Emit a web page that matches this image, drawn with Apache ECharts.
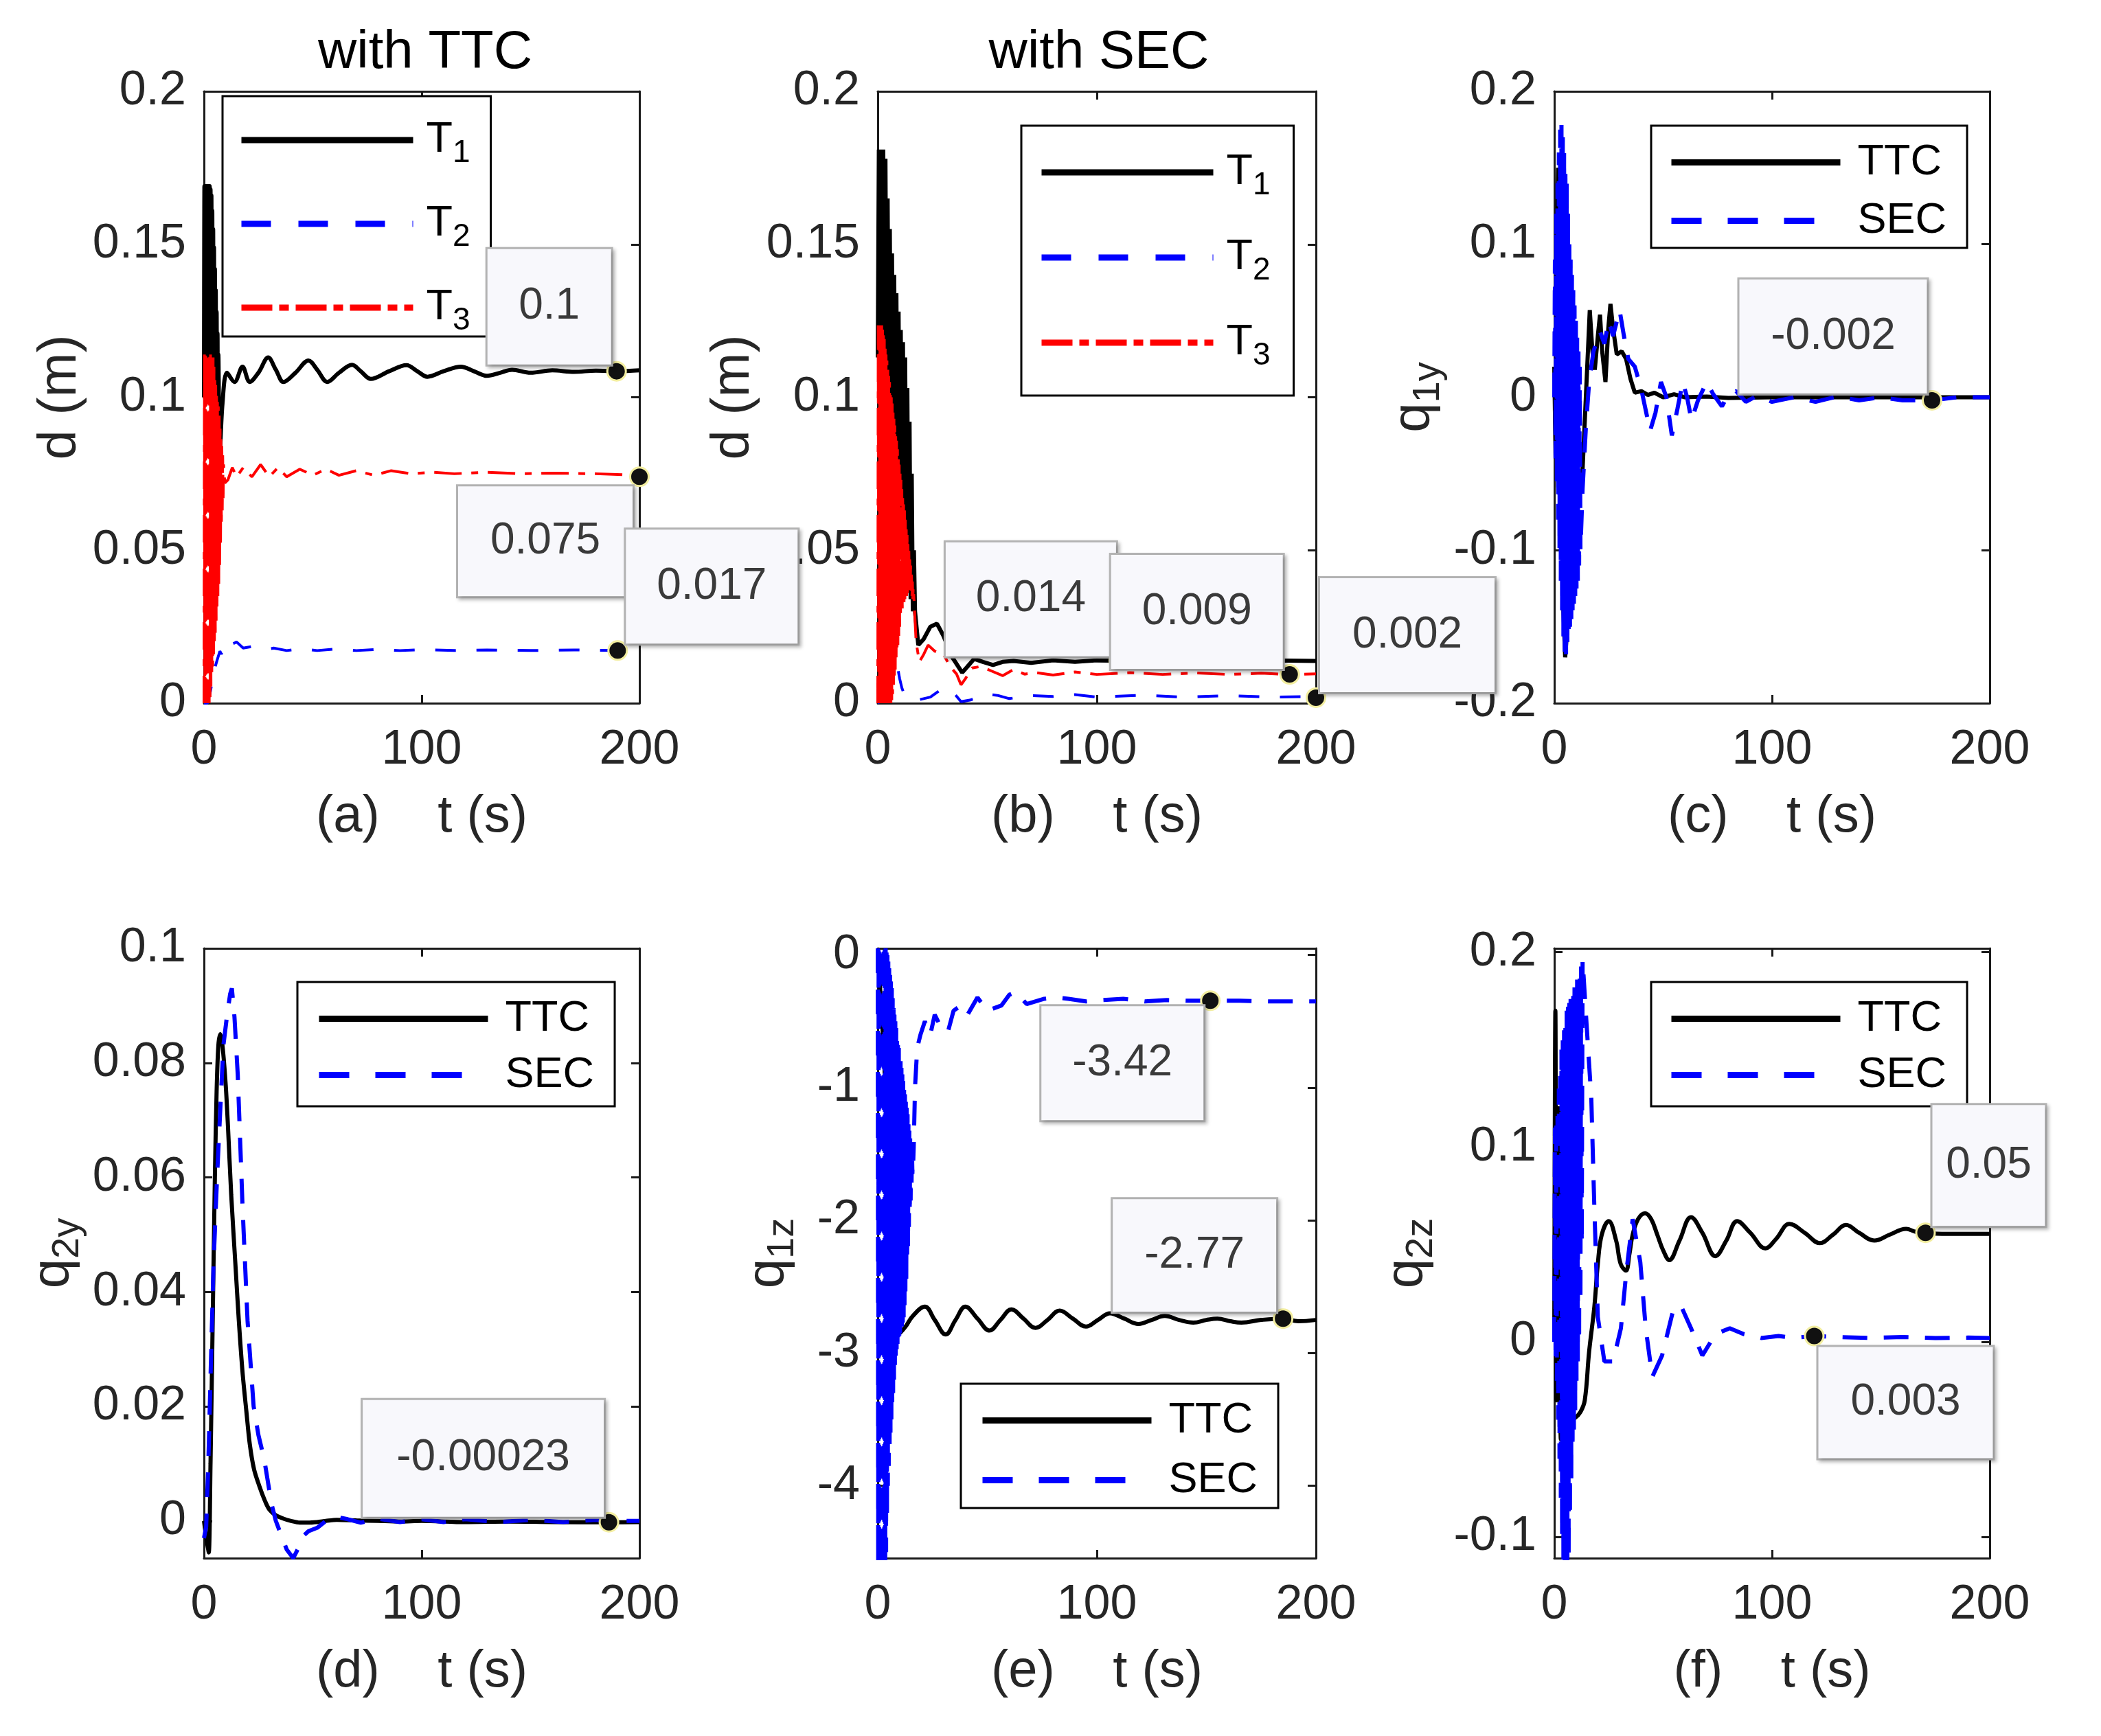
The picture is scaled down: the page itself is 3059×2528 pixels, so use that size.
<!DOCTYPE html>
<html><head><meta charset="utf-8">
<script src="https://cdn.jsdelivr.net/npm/echarts@6/dist/echarts.min.js"></script>
<style>html,body{margin:0;padding:0;background:#fff}#c{width:3059px;height:2528px}</style>
</head><body><div id="c"></div>
<script>
// ---------------- DATA ----------------
// (a) with TTC
const tA1 = [0,0.2,0.4,0.6,0.8,1,1.2,1.4,1.6,1.8,2,2.2,2.4,2.6,2.8,3,3.2,3.4,3.6,3.8,4,4.2,4.4,4.6,4.8,5,5.2,5.4,5.6,5.8,6,6.2,6.4,6.6,7.3,8.5,10.6,14,17.7,21,25,29.5,33,36.5,42,48,52,56.6,62,68,72,76.6,85,93,98,102.6,110,118,124,130,136,141.5,150,160,170,180,190,200];
const yA1 = [0.1,0.169,0.1,0.169,0.1,0.169,0.1,0.169,0.1,0.169,0.1,0.169,0.1,0.169,0.1,0.168,0.1,0.166,0.1,0.161,0.1,0.155,0.095,0.149,0.093,0.142,0.09,0.135,0.088,0.128,0.086,0.121,0.084,0.114,0.082,0.098,0.108,0.105,0.110,0.105,0.108,0.113,0.109,0.105,0.108,0.112,0.109,0.105,0.108,0.1106,0.1085,0.106,0.1085,0.1105,0.1085,0.1067,0.1085,0.110,0.1085,0.107,0.108,0.109,0.108,0.1088,0.1083,0.1087,0.1085,0.1088];
const tA2 = [0,1.6,3,4,5.2,6,7.3,8,9,10,12,15,18,22,28,32,38,45,52,60,70,80,90,100,115,130,150,170,190,200];
const yA2 = [0,0,0.004,0.008,0.012,0.014,0.017,0.016,0.019,0.020,0.019,0.020,0.018,0.0185,0.0175,0.018,0.0172,0.0178,0.0172,0.0177,0.0172,0.0176,0.0172,0.0175,0.0172,0.0174,0.0172,0.0174,0.0172,0.0173];
const tA3 = [0,0.2,0.4,0.6,0.8,1,1.2,1.4,1.6,1.8,2,2.2,2.4,2.6,2.8,3,3.2,3.4,3.6,3.8,4,4.2,4.4,4.6,4.8,5,5.2,5.4,5.6,5.8,6,6.2,6.4,6.6,6.8,7,7.2,7.4,7.6,7.8,8,8.2,8.4,8.6,8.8,9,9.6,11,13,15,18,22,26,30,34,38,44,50,56,62,70,78,86,95,105,115,130,145,160,180,200];
const yA3 = [0,0.114,0,0.114,0,0.114,0,0.114,0,0.114,0,0.114,0,0.114,0.002,0.114,0.005,0.114,0.009,0.114,0.012,0.113,0.016,0.11,0.019,0.107,0.023,0.104,0.027,0.101,0.031,0.099,0.035,0.097,0.039,0.094,0.045,0.091,0.051,0.087,0.058,0.084,0.063,0.081,0.067,0.078,0.072,0.073,0.077,0.074,0.077,0.074,0.078,0.074,0.077,0.074,0.0765,0.0745,0.0765,0.0745,0.076,0.0745,0.076,0.075,0.0755,0.075,0.0755,0.075,0.0752,0.075,0.0745];
// (b) with SEC
const tB1 = [0,0.5,1,1.5,2,2.5,3,3.5,4,4.5,5,5.5,6,6.5,7,7.5,8,8.5,9,9.5,10,10.5,11,11.5,12,12.5,13,13.5,14,14.5,15,15.5,16,16.5,17,18.5,21,24,27,30,34,38.5,41,44,48,52.6,57,62,70,80,90,100,120,140,160,180,200];
const yB1 = [0.113,0.181,0.113,0.181,0.113,0.181,0.109,0.178,0.103,0.165,0.097,0.155,0.091,0.147,0.085,0.14,0.079,0.134,0.073,0.128,0.066,0.122,0.06,0.118,0.053,0.113,0.046,0.103,0.04,0.092,0.034,0.075,0.03,0.05,0.03,0.019,0.021,0.025,0.026,0.022,0.015,0.010,0.012,0.0145,0.0135,0.0125,0.0135,0.0138,0.0132,0.014,0.0135,0.014,0.0138,0.014,0.0137,0.014,0.0138];
const tB2 = [0,3,5,6,7,8,9,10,11,12,14,18,24,30,34,38,42,50,55,60,70,80,90,100,120,140,160,180,200];
const yB2 = [0,0.002,0.008,0.014,0.018,0.016,0.012,0.008,0.005,0.003,0.002,0.001,0.002,0.005,0.004,0.0005,0.001,0.003,0.0025,0.0015,0.0025,0.0022,0.0028,0.002,0.0026,0.002,0.0025,0.002,0.0022];
const tB3 = [0,0.2,0.4,0.6,0.8,1,1.2,1.4,1.6,1.8,2,2.2,2.4,2.6,2.8,3,3.2,3.4,3.6,3.8,4,4.2,4.4,4.6,4.8,5,5.2,5.4,5.6,5.8,6,6.2,6.4,6.6,6.8,7,7.2,7.4,7.6,7.8,8,8.2,8.4,8.6,8.8,9,9.2,9.4,9.6,9.8,10,10.2,10.4,10.6,10.8,11,11.2,11.4,11.6,11.8,12,12.2,12.4,12.6,12.8,13,13.2,13.4,13.6,13.8,14,14.2,14.4,14.6,14.8,15,15.2,15.4,15.6,15.8,16,16.2,16.4,17.5,19,21,23,26,30,33,36,38,40,43,47,52,57,62,67,72,80,90,100,115,130,145,160,175,188,200];
const yB3 = [0,0.1235,0,0.1235,0,0.1235,0,0.1235,0,0.1235,0,0.1235,0,0.121,0,0.119,0,0.116,0,0.114,0,0.112,0,0.109,0,0.107,0,0.105,0,0.102,0,0.100,0.001,0.098,0.003,0.095,0.006,0.093,0.008,0.091,0.011,0.088,0.014,0.086,0.017,0.083,0.019,0.080,0.022,0.078,0.025,0.075,0.028,0.073,0.030,0.070,0.031,0.068,0.032,0.065,0.033,0.063,0.034,0.060,0.035,0.058,0.035,0.055,0.036,0.052,0.037,0.050,0.037,0.047,0.036,0.045,0.036,0.042,0.035,0.040,0.034,0.038,0.036,0.02,0.0135,0.016,0.019,0.017,0.016,0.012,0.0095,0.006,0.008,0.0115,0.012,0.0105,0.009,0.011,0.0095,0.010,0.0092,0.0102,0.0094,0.0100,0.0094,0.0099,0.0094,0.0098,0.0094,0.0096];
// (c) q1y
const tC1 = [0,0.6,1.2,1.8,2.4,3.2,4.2,5,6,7.5,9,11,13,14.5,16.3,17.5,18.6,20,21,22,23.5,24.8,25.8,27,28.7,31,33,35,37,40,43,46,50,55,60,70,80,100,150,200];
const yC1 = [0.02,-0.04,0.10,0.15,0.05,-0.06,-0.14,-0.17,-0.15,-0.10,-0.08,-0.06,-0.047,0.0,0.057,0.03,0.018,0.04,0.054,0.03,0.01,0.045,0.061,0.045,0.028,0.03,0.025,0.012,0.003,0.004,0.0015,0.003,0.0,0.002,0,0.0005,-0.0005,0,0,0];
const tC2 = [0,0.3,0.6,0.9,1.2,1.5,1.8,2.1,2.4,2.7,3.0,3.3,3.6,3.9,4.2,4.5,4.8,5.1,5.4,5.7,6.0,6.3,6.6,6.9,7.2,7.5,7.8,8.1,8.4,8.7,9.0,9.3,9.6,9.9,10.2,10.5,10.8,11.1,11.4,11.7,12.0,13,14.5,16,18,21,23,25,27,30,32,34,37,40,44,46.5,49,51.5,54,56.5,59,61,63,66,70,73,77,80,83.5,88,93,100,110,120,130,140,150,160,173.5,185,200];
const yC2 = [0,0.09,-0.04,0.12,-0.06,0.14,-0.08,0.16,-0.10,0.175,-0.12,0.178,-0.14,0.17,-0.16,0.16,-0.17,0.15,-0.168,0.14,-0.16,0.12,-0.155,0.10,-0.15,0.09,-0.145,0.08,-0.14,0.07,-0.135,0.06,-0.13,0.05,-0.125,0.04,-0.12,0.03,-0.11,0.02,-0.10,-0.06,-0.02,0.01,0.03,0.043,0.035,0.05,0.04,0.057,0.04,0.025,0.02,0.005,-0.022,-0.01,0.01,0,-0.025,-0.008,0.01,0,-0.015,-0.002,0.01,0.002,-0.006,0.002,0.004,-0.003,0.001,-0.003,0,-0.003,0.0005,-0.002,0,-0.002,-0.002,0,0];
// (d) q2y
const tD1 = [0,0.7,1.5,2.2,3,4,5,5.8,6.6,7.5,8.5,10,11,12.5,14.4,16,17.7,19.5,21,23,25.5,28,30,33,36.5,40,44,47.6,52,56,61,70,80,90,100,120,140,160,186,200];
const yD1 = [0,-0.002,-0.004,-0.0055,0.01,0.035,0.06,0.075,0.083,0.085,0.083,0.076,0.069,0.057,0.045,0.035,0.026,0.019,0.0135,0.009,0.006,0.0035,0.002,0.001,0.0004,0,-0.0003,-0.0003,-0.0002,0,0.0002,0.0001,0,-0.0001,0,-0.0002,-0.0001,-0.0002,-0.00023,-0.0002];
const tD2 = [0,1,2,3,4.4,6,7.5,8.9,10.5,12,12.8,14,15.5,17.7,20,22.8,25,27.7,31,33,36,38,41,43,45.4,48,52,56,61,66,72,80,90,100,110,120,135,150,165,180,190,200];
const yD2 = [-0.003,-0.001,0.01,0.025,0.045,0.06,0.072,0.083,0.088,0.092,0.093,0.088,0.078,0.055,0.035,0.02,0.015,0.0107,0.003,0,-0.003,-0.005,-0.0065,-0.005,-0.0027,-0.0018,-0.0012,0,0.0007,0.0003,-0.0003,0.0004,-0.0002,0.0003,-0.0002,0.0003,-0.0002,0.0002,-0.0002,0.0002,0,0];
// (e) q1z
const tE1 = [0,2,4,6,8,10,12.7,16,21.5,26,31,35.5,40,45.5,51,56,61,66.5,72,77.5,83,89,95,100.5,106,112.5,119,125,131,137.5,144,150,155,161,166,175,185,192,200];
const yE1 = [0,-0.5,-1.2,-1.9,-2.5,-2.85,-2.8,-2.72,-2.65,-2.75,-2.86,-2.75,-2.65,-2.74,-2.83,-2.75,-2.67,-2.74,-2.81,-2.75,-2.68,-2.74,-2.8,-2.75,-2.7,-2.74,-2.78,-2.75,-2.72,-2.75,-2.77,-2.75,-2.74,-2.76,-2.77,-2.75,-2.74,-2.76,-2.75];
const tE2 = [0,0.2,0.4,0.6,0.8,1,1.2,1.4,1.6,1.8,2,2.2,2.4,2.6,2.8,3,3.2,3.4,3.6,3.8,4,4.2,4.4,4.6,4.8,5,5.2,5.4,5.6,5.8,6,6.2,6.4,6.6,6.8,7,7.2,7.4,7.6,7.8,8,8.2,8.4,8.6,8.8,9,9.2,9.4,9.6,9.8,10,10.2,10.4,10.6,10.8,11,11.2,11.4,11.6,11.8,12,12.2,12.4,12.6,12.8,13,13.2,13.4,13.6,13.8,14,14.2,14.4,14.6,14.8,15,15.2,15.4,15.6,15.8,16,16.2,16.4,17,18,19.5,21.5,24,26,29,32,34.6,38,41,45.5,50,56.5,60,63,68,76,81,87,95,102.5,112,122,132,142,151.8,165,180,200];
const yE2 = [0.05,-4.6,0.05,-4.6,0.05,-4.6,0.05,-4.6,0.05,-4.6,0.05,-4.6,0.05,-4.6,0.05,-4.6,0.05,-4.6,0.05,-4.5,0.05,-4.25,0.0,-4.0,-0.05,-3.85,-0.1,-3.7,-0.15,-3.6,-0.2,-3.5,-0.25,-3.4,-0.32,-3.3,-0.4,-3.2,-0.45,-3.1,-0.5,-3.02,-0.55,-2.97,-0.6,-2.93,-0.65,-2.9,-0.7,-2.87,-0.75,-2.85,-0.8,-2.82,-0.85,-2.8,-0.9,-2.77,-0.95,-2.73,-1.0,-2.65,-1.05,-2.55,-1.1,-2.45,-1.15,-2.3,-1.2,-2.2,-1.25,-2.05,-1.3,-1.95,-1.35,-1.85,-1.4,-1.75,-1.45,-1.65,-1.5,-1.55,-1.45,-1.0,-0.7,-0.6,-0.5,-0.6,-0.45,-0.55,-0.58,-0.42,-0.38,-0.45,-0.32,-0.42,-0.38,-0.3,-0.28,-0.37,-0.33,-0.32,-0.33,-0.35,-0.34,-0.33,-0.35,-0.34,-0.345,-0.345,-0.345,-0.35,-0.35];
// (f) q2z
const tF1 = [0,0.5,1,2,3,4,5.5,7,9.5,12,14,16,18.4,20,21.8,25,28.4,30.5,32.9,34.5,36,38.5,41.7,44.5,47.3,50,52.8,57.5,62.8,68,74,79,84,90,97,102,108,115,122,128,134,140,147,154,161.6,166,170.5,178,190,200];
const yF1 = [0,0.17,-0.03,0.12,-0.05,0.06,-0.035,-0.04,-0.039,-0.036,-0.03,-0.005,0.018,0.04,0.055,0.062,0.052,0.04,0.0366,0.045,0.055,0.063,0.066,0.063,0.055,0.047,0.042,0.052,0.064,0.056,0.044,0.052,0.062,0.056,0.048,0.053,0.0606,0.056,0.0507,0.055,0.06,0.056,0.052,0.055,0.058,0.0565,0.056,0.0555,0.0555,0.0555];
const tF2 = [0,0.3,0.6,0.9,1.2,1.5,1.8,2.1,2.4,2.7,3.0,3.3,3.6,3.9,4.2,4.5,4.8,5.1,5.4,5.7,6.0,6.3,6.6,6.9,7.2,7.5,7.8,8.1,8.4,8.7,9.0,9.3,9.6,9.9,10.2,10.5,10.8,11.1,11.4,11.7,12.0,12.3,12.6,13.0,15,17,18.4,20,23,27,30.6,33,36,39.5,42,45,49.5,55,58.4,62.8,68,74,80.6,87,95,103,110,119.4,130,145,160,175,190,200];
const yF2 = [0,0.11,-0.01,0.115,-0.02,0.12,-0.04,0.13,-0.06,0.14,-0.08,0.15,-0.1,0.155,-0.113,0.16,-0.115,0.165,-0.115,0.17,-0.115,0.172,-0.11,0.174,-0.09,0.176,-0.07,0.178,-0.055,0.18,-0.045,0.182,-0.035,0.184,-0.02,0.186,-0.01,0.188,0.0,0.19,0.02,0.193,0.05,0.196,0.16,0.125,0.069,0.0127,-0.01,-0.01,0.007,0.035,0.063,0.041,0.007,-0.018,-0.007,0.018,0.018,0.007,-0.007,0.004,0.007,0.004,0.002,0.003,0.002,0.003,0.0025,0.002,0.0025,0.002,0.0022,0.002];

// data tips
const tipPanel = [0,0,0,1,1,1,2,3,4,4,5,5];
const tipT = [189.5,200,190,110,188,200,173.5,186,151.8,185,170.5,119.4];
const tipV = [0.1085,0.074,0.0172,0.014,0.0094,0.0018,-0.002,-0.00023,-0.345,-2.74,0.056,0.003];
const tipText = ['0.1','0.075','0.017','0.014','0.009','0.002','-0.002','-0.00023','-3.42','-2.77','0.05','0.003'];

// tick labels
const xTicks = [0,100,200];
const yTicksAB = [0,0.05,0.1,0.15,0.2];
const yTicksC = [-0.2,-0.1,0,0.1,0.2];
const yTicksD = [0,0.02,0.04,0.06,0.08,0.1];
const yTicksE = [-4,-3,-2,-1,0];
const yTicksF = [-0.1,0,0.1,0.2];

const xNames = ['(a)    t (s)','(b)    t (s)','(c)    t (s)','(d)    t (s)','(e)    t (s)','(f)    t (s)'];
const yNames = ['d (m)','d (m)','{q|q}{s|1y}','{q|q}{s|2y}','{q|q}{s|1z}','{q|q}{s|2z}'];
const titles = ['with TTC','with SEC'];

// ---------------- STYLE / LAYOUT ----------------
const FONT = 'Liberation Sans, Arial, Helvetica, sans-serif';
const AX = '#1a1a1a', TX = '#262626';
const grids = [
  {left:297, top:133, width:634, height:891},
  {left:1278, top:133, width:638, height:891},
  {left:2263, top:133, width:634, height:891},
  {left:297, top:1381, width:634, height:888},
  {left:1278, top:1381, width:638, height:888},
  {left:2263, top:1381, width:634, height:888}
];
const yRange = [
  {min:0, max:0.2, ticks:yTicksAB},
  {min:0, max:0.2, ticks:yTicksAB},
  {min:-0.2, max:0.2, ticks:yTicksC},
  {min:-0.0065, max:0.1, ticks:yTicksD},
  {min:-4.545, max:0.05, ticks:yTicksE},
  {min:-0.111, max:0.202, ticks:yTicksF}
];
const yNameGap = [170, 171, 163, 178, 118, 173];
const tipBox = [
  {off:[-98,-94], w:180, h:168},
  {off:[-137,94], w:254, h:160},
  {off:[137,-93], w:250, h:166},
  {off:[-128,-89], w:248, h:166},
  {off:[-135,-91], w:250, h:166},
  {off:[133,-91], w:254, h:166},
  {off:[-144,-93], w:273, h:166},
  {off:[-183,-93], w:351, h:170},
  {off:[-128,91], w:236, h:166},
  {off:[-129,-92], w:238, h:164},
  {off:[92,-98], w:164, h:176},
  {off:[133,97], w:254, h:162}
];

const zip = (t, v) => t.map((x, i) => [x, v[i]]);

const xAxis = [], yAxis = [];
for (let i = 0; i < 6; i++) {
  const line = {show:true, onZero:false, lineStyle:{color:AX, width:3}};
  const tickX = {show:true, inside:true, length:12, customValues:xTicks, lineStyle:{color:AX, width:3}};
  xAxis.push({gridIndex:i, type:'value', min:0, max:200, interval:100, position:'bottom',
    axisLine:line, axisTick:tickX, splitLine:{show:false},
    axisLabel:{show:true, customValues:xTicks, fontSize:70, color:TX, margin:34, fontFamily:FONT},
    name:xNames[i], nameLocation:'middle', nameGap:128, nameMoveOverlap:false,
    nameTextStyle:{fontSize:76, color:TX, fontFamily:FONT}});
  xAxis.push({gridIndex:i, type:'value', min:0, max:200, interval:100, position:'top',
    axisLine:line, axisTick:tickX, splitLine:{show:false}, axisLabel:{show:false}});
  const r = yRange[i];
  const tickY = {show:true, inside:true, length:12, customValues:r.ticks, lineStyle:{color:AX, width:3}};
  yAxis.push({gridIndex:i, type:'value', min:r.min, max:r.max, position:'left',
    axisLine:line, axisTick:tickY, splitLine:{show:false},
    axisLabel:{show:true, customValues:r.ticks, fontSize:70, color:TX, margin:26, fontFamily:FONT},
    name:yNames[i], nameLocation:'middle', nameGap:yNameGap[i], nameMoveOverlap:false,
    nameTextStyle:{fontSize:78, color:TX, fontFamily:FONT,
      rich:{q:{fontSize:78, lineHeight:80, verticalAlign:'top', color:TX, fontFamily:FONT},
            s:{fontSize:56, lineHeight:56, padding:[40,0,0,0], color:TX, fontFamily:FONT}}}});
  yAxis.push({gridIndex:i, type:'value', min:r.min, max:r.max, position:'right',
    axisLine:line, axisTick:tickY, splitLine:{show:false}, axisLabel:{show:false}});
}

function lineSeries(name, gi, t, v, color, width, type, smooth) {
  return {type:'line', name, xAxisIndex:2*gi, yAxisIndex:2*gi, data:zip(t, v),
    symbol:'none', showSymbol:false, clip:true, z:2, color:color, smooth:smooth || false,
    itemStyle:{color}, lineStyle:{color, width, type}, emphasis:{disabled:true}};
}
const BLK = '#000000', BLU = '#0000ff', RED = '#ff0000';
const dashT2 = [30,30], dashT3 = [40,14,10,14], dashSEC = [36,24];
const series = [
  lineSeries('T1', 0, tA1, yA1, BLK, 6, 'solid', 0.35),
  lineSeries('T2', 0, tA2, yA2, BLU, 4, dashT2),
  lineSeries('T3', 0, tA3, yA3, RED, 4, dashT3),
  lineSeries('T1', 1, tB1, yB1, BLK, 6, 'solid'),
  lineSeries('T2', 1, tB2, yB2, BLU, 4, dashT2),
  lineSeries('T3', 1, tB3, yB3, RED, 4, dashT3),
  lineSeries('TTC', 2, tC1, yC1, BLK, 6, 'solid'),
  lineSeries('SEC', 2, tC2, yC2, BLU, 6, dashSEC),
  lineSeries('TTC', 3, tD1, yD1, BLK, 6, 'solid', 0.3),
  lineSeries('SEC', 3, tD2, yD2, BLU, 6, dashSEC),
  lineSeries('TTC', 4, tE1, yE1, BLK, 6, 'solid', 0.4),
  lineSeries('SEC', 4, tE2, yE2, BLU, 6, dashSEC),
  lineSeries('TTC', 5, tF1, yF1, BLK, 6, 'solid', 0.4),
  lineSeries('SEC', 5, tF2, yF2, BLU, 6, dashSEC)
];
for (let k = 0; k < tipT.length; k++) {
  const b = tipBox[k], gi = tipPanel[k];
  series.push({type:'scatter', name:'tip' + k, xAxisIndex:2*gi, yAxisIndex:2*gi,
    data:[[tipT[k], tipV[k]]], symbol:'circle', symbolSize:27, clip:false, z:10,
    itemStyle:{color:'#111', borderColor:'#f3eea0', borderWidth:3, opacity:1},
    emphasis:{disabled:true},
    label:{show:true, formatter:tipText[k], position:'inside', offset:b.off, opacity:1,
      width:b.w, height:b.h, lineHeight:b.h, align:'center', verticalAlign:'middle',
      fontSize:64, color:'#3a3a3a', fontFamily:FONT, padding:0,
      backgroundColor:'#f8f8fc', borderColor:'#b4b4b4', borderWidth:3,
      shadowColor:'rgba(0,0,0,0.22)', shadowBlur:5, shadowOffsetX:3, shadowOffsetY:3}});
}

const hideSym = {opacity:0};
function legendT(left, top, pad, gap) {
  return {orient:'vertical', left, top, padding:pad, itemGap:gap, itemWidth:250, itemHeight:14,
    selectedMode:false, backgroundColor:'#fff', borderColor:'#000', borderWidth:3, borderRadius:0,
    data:[{name:'T1', itemStyle:hideSym, lineStyle:{width:9, type:'solid'}},
          {name:'T2', itemStyle:hideSym, lineStyle:{width:9, type:[43,40]}},
          {name:'T3', itemStyle:hideSym, lineStyle:{width:9, type:[45,10,14,10]}}],
    formatter:n => '{m|T}{s|' + n.slice(1) + '}',
    textStyle:{color:'#000', fontFamily:FONT,
      rich:{m:{fontSize:63, lineHeight:64, verticalAlign:'top', padding:[0,0,0,14], color:'#000', fontFamily:FONT},
            s:{fontSize:46, lineHeight:40, padding:[38,0,0,0], color:'#000', fontFamily:FONT}}}};
}
function legendQ(left, top, pad, gap) {
  return {orient:'vertical', left, top, padding:pad, itemGap:gap, itemWidth:246, itemHeight:14,
    selectedMode:false, backgroundColor:'#fff', borderColor:'#000', borderWidth:3, borderRadius:0,
    data:[{name:'TTC', itemStyle:hideSym, lineStyle:{width:9, type:'solid'}},
          {name:'SEC', itemStyle:hideSym, lineStyle:{width:9, type:[44,38]}}],
    formatter:n => '{m|' + n + '}',
    textStyle:{color:'#000', fontFamily:FONT,
      rich:{m:{fontSize:63, lineHeight:70, padding:[0,0,0,20], color:'#000', fontFamily:FONT}}}};
}

const option = {
  animation:false,
  backgroundColor:'#fff',
  textStyle:{fontFamily:FONT},
  title:[
    {text:titles[0], left:619, top:38, textAlign:'center', padding:0, textStyle:{fontSize:78, fontWeight:'normal', color:'#000', fontFamily:FONT}},
    {text:titles[1], left:1600, top:38, textAlign:'center', padding:0, textStyle:{fontSize:78, fontWeight:'normal', color:'#000', fontFamily:FONT}}
  ],
  grid:grids.map(g => Object.assign({outerBoundsMode:'none', containLabel:false}, g)),
  xAxis, yAxis,
  legend:[
    legendT(324, 140, [22,30,0,23], 38),
    legendT(1487, 183, [26,34,35,25], 40),
    legendQ(2404, 183, [22,30,8,25], 22),
    legendQ(433, 1430, [22,30,14,27], 19),
    legendQ(1399, 2015, [22,30,9,27], 24),
    legendQ(2404, 1430, [22,30,14,25], 19)
  ],
  series
};
const chart = echarts.init(document.getElementById('c'), null, {renderer:'canvas'});
chart.setOption(option);
</script></body></html>
